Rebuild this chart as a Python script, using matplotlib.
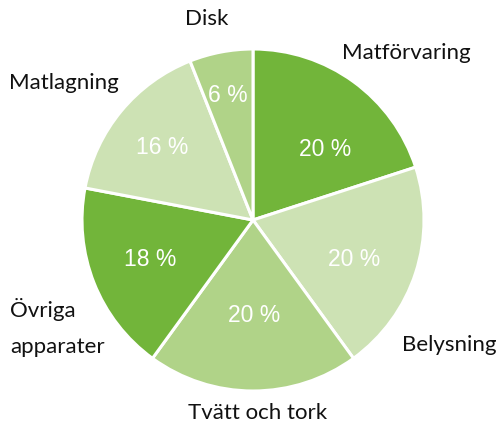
import matplotlib
matplotlib.use('Agg')
import matplotlib.pyplot as plt

categories = ['Matförvaring', 'Belysning', 'Tvätt och tork', 'Övriga\napparater', 'Matlagning', 'Disk']
shares = [20, 20, 20, 18, 16, 6]

dark, mid, light = '#72b53a', '#b0d388', '#cde2b4'
colors = [dark, light, mid, dark, light, mid]

# label placement (pixel coords of the 498x427 image, y from top)
label_pos = [(406, 53), (449, 345), (258, 413), (10, 328), (64, 83), (207, 19)]
label_ha = ['center', 'center', 'center', 'left', 'center', 'center']
pct_pos = [(325, 149), (354, 260), (254, 316), (150, 259), (162, 148), (228, 95)]

W, H = 498, 427
cx, cy, R = 253, 221, 171

fig = plt.figure(figsize=(W / 100, H / 100), dpi=100)
ax = fig.add_axes([0, 0, 1, 1])

wedges, _ = ax.pie(shares, colors=colors, startangle=90, counterclock=False,
                   radius=R, center=(cx, H - cy),
                   wedgeprops=dict(edgecolor='white', linewidth=2.2))
ax.set_xlim(0, W)
ax.set_ylim(0, H)
ax.set_aspect('equal')
ax.axis('off')

for v, (x, y) in zip(shares, pct_pos):
    ax.text(x, H - y, f'{v} %', color='white', fontsize=16.5,
            family='Liberation Sans', ha='center', va='center')

for name, (x, y), ha in zip(categories, label_pos, label_ha):
    ax.text(x, H - y, name, fontsize=16, family='Lato', ha=ha, va='center',
            linespacing=2.0, color='#111111')

fig.savefig('out.png', dpi=100)
